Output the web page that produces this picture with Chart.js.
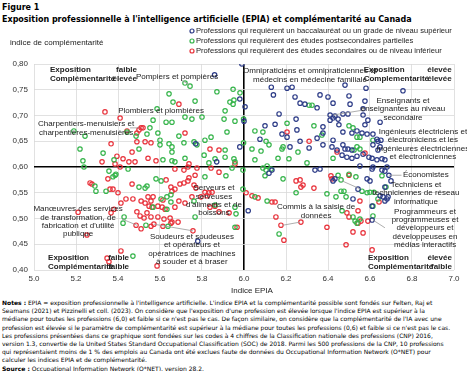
<!DOCTYPE html>
<html lang="fr">
<head>
<meta charset="utf-8">
<script src="https://cdn.jsdelivr.net/npm/chart.js@4.4.0/dist/chart.umd.min.js"></script>
<style>
  body { margin: 0; background: #fff; width: 467px; height: 371px; overflow: hidden; position: relative; }
  #head { position: absolute; left: 2px; top: 2px; font-family: 'DejaVu Sans', Verdana, sans-serif; font-weight: bold; font-size: 8px; line-height: 12px; color: #000; white-space: nowrap; }
  #wrap { position: absolute; left: 0; top: 26px; width: 467px; height: 272px; }
  #notes { position: absolute; left: 2px; top: 299px; width: 463px; font-family: 'DejaVu Sans', Verdana, sans-serif; font-size: 6px; line-height: 8.2px; color: #000; white-space: nowrap; }
</style>
</head>
<body>
<div id="head">Figure 1<br>Exposition professionnelle à l'intelligence artificielle (EPIA) et complémentarité au Canada</div>
<div id="wrap"><canvas id="chart" width="467" height="272"></canvas></div>
<div id="notes">
<b>Notes :</b> EPIA = exposition professionnelle à l'intelligence artificielle. L'indice EPIA et la complémentarité possible sont fondés sur Felten, Raj et<br>
Seamans (2021) et Pizzinelli et coll. (2023). On considère que l'exposition d'une profession est élevée lorsque l'indice EPIA est supérieur à la<br>
médiane pour toutes les professions (6,0) et faible si ce n'est pas le cas. De façon similaire, on considère que la complémentarité de l'IA avec une<br>
profession est élevée si le paramètre de complémentarité est supérieur à la médiane pour toutes les professions (0,6) et faible si ce n'est pas le cas.<br>
Les professions présentées dans ce graphique sont fondées sur les codes à 4 chiffres de la Classification nationale des professions (CNP) 2016,<br>
version 1.3, convertie de la United States Standard Occupational Classification (SOC) de 2018. Parmi les 500 professions de la CNP, 10 professions<br>
qui représentaient moins de 1 % des emplois au Canada ont été exclues faute de données du Occupational Information Network (O*NET) pour<br>
calculer les indices EPIA et de complémentarité.<br>
<b>Source :</b> Occupational Information Network (O*NET), version 28.2.
</div>
<script>
// series names
const seriesNames = [
  'Professions qui requièrent un baccalauréat ou un grade de niveau supérieur',
  'Professions qui requièrent des études postsecondaires partielles',
  'Professions qui requièrent des études secondaires ou de niveau inférieur'
];
const seriesColors = ['#2b3a86', '#35b44a', '#e8313a'];

// [indice EPIA, indice de complémentarité]
const bacPoints = [
  [5.86,0.779],[5.99,0.800],[5.98,0.732],[6.005,0.717],[6.0,0.689],[5.77,0.645],[5.98,0.639],[5.87,0.610],
  [6.13,0.755],[6.14,0.740],[6.205,0.753],[6.229,0.755],[6.243,0.736],[6.267,0.724],[6.29,0.722],[6.167,0.703],
  [6.248,0.693],[6.10,0.680],[6.148,0.683],[6.181,0.664],[6.205,0.658],[6.252,0.672],[6.076,0.654],[6.219,0.639],
  [6.267,0.650],[6.31,0.637],[6.362,0.740],[6.40,0.736],[6.50,0.738],[6.481,0.759],[6.581,0.753],[6.757,0.748],
  [6.424,0.724],[6.505,0.722],[6.348,0.715],[6.567,0.713],[6.576,0.728],[6.41,0.701],[6.424,0.695],[6.41,0.691],
  [6.448,0.693],[6.433,0.699],[6.471,0.703],[6.495,0.703],[6.567,0.701],[6.59,0.691],[6.648,0.687],[6.376,0.678],
  [6.452,0.682],[6.471,0.668],[6.514,0.666],[6.538,0.670],[6.562,0.666],[6.586,0.664],[6.576,0.682],[6.614,0.664],
  [6.376,0.666],[6.633,0.654],[6.638,0.650],[6.652,0.652],[6.348,0.656],[6.424,0.652],[6.376,0.643],[6.419,0.639],
  [6.443,0.633],[6.471,0.643],[6.481,0.635],[6.495,0.635],[6.514,0.633],[6.567,0.625],[6.595,0.619],[6.467,0.623],
  [6.49,0.619],[6.514,0.617],[6.538,0.621],[6.61,0.617],[6.633,0.614],[6.657,0.616],[6.671,0.614],[6.638,0.633],
  [6.648,0.639],[6.614,0.643],[6.552,0.602],[6.614,0.600],[5.78,0.456],[6.02,0.515],[6.119,0.588],[6.133,0.594],
  [6.338,0.594],[6.362,0.596],[6.61,0.596],[6.657,0.594],[6.671,0.592],[6.681,0.600],[6.424,0.573],[6.433,0.577],
  [6.586,0.577],[6.60,0.573],[6.69,0.584],[6.70,0.573],[6.543,0.557],[6.671,0.561],[6.648,0.544],[6.662,0.542],
  [6.681,0.538],[6.686,0.542],[6.671,0.534],[6.519,0.538],[6.61,0.524],[6.61,0.497]
];
const postsecPoints = [
  [5.643,0.742],[5.662,0.726],[5.586,0.713],[5.567,0.691],[5.629,0.687],[5.657,0.687],[5.552,0.676],[5.19,0.670],
  [5.243,0.660],[5.486,0.660],[5.538,0.664],[5.59,0.666],[5.60,0.652],[5.643,0.645],[5.219,0.635],[5.329,0.627],
  [5.50,0.635],[5.60,0.643],[5.657,0.639],[5.233,0.612],[5.381,0.614],[5.614,0.614],[5.657,0.612],[5.238,0.600],
  [5.719,0.763],[5.743,0.757],[5.767,0.728],[5.871,0.746],[5.948,0.751],[5.981,0.744],[5.952,0.730],[5.933,0.726],
  [5.948,0.722],[5.719,0.697],[5.752,0.693],[5.80,0.697],[5.91,0.709],[5.905,0.693],[5.957,0.689],[5.998,0.693],
  [5.69,0.660],[5.814,0.652],[5.843,0.658],[5.919,0.668],[5.714,0.647],[5.762,0.649],[5.776,0.643],[5.91,0.633],
  [5.998,0.647],[5.657,0.629],[5.719,0.617],[5.81,0.623],[5.862,0.616],[5.91,0.619],[5.952,0.616],[5.957,0.610],
  [5.833,0.608],[5.671,0.610],[5.443,0.668],[6.31,0.720],[6.205,0.685],[6.052,0.670],[6.09,0.668],[6.105,0.650],
  [6.119,0.643],[6.038,0.635],[6.081,0.631],[6.186,0.639],[6.181,0.635],[6.257,0.629],[6.052,0.614],[6.162,0.617],
  [6.214,0.616],[6.11,0.602],[6.30,0.608],[6.324,0.720],[6.333,0.680],[6.50,0.680],[6.519,0.676],[6.538,0.658],
  [6.552,0.658],[6.371,0.662],[6.614,0.652],[6.538,0.639],[6.552,0.635],[6.524,0.633],[6.424,0.617],[5.814,0.581],
  [5.914,0.583],[5.943,0.598],[5.995,0.594],[5.762,0.534],[5.862,0.526],[5.957,0.522],[5.962,0.509],[5.767,0.503],
  [5.957,0.483],[6.09,0.598],[6.105,0.594],[6.10,0.583],[6.129,0.596],[6.052,0.542],[5.995,0.557],[6.11,0.534],
  [6.167,0.470],[6.248,0.550],[6.186,0.577],[6.448,0.584],[6.50,0.586],[6.462,0.575],[6.533,0.581],[6.657,0.583],
  [6.395,0.548],[6.438,0.542],[6.462,0.553],[6.476,0.553],[6.486,0.542],[6.562,0.553],[6.586,0.550],[6.60,0.551],
  [6.619,0.551],[6.676,0.561],[6.638,0.538],[6.467,0.515],[6.614,0.524],[6.519,0.503],[6.529,0.495],[6.538,0.491],
  [6.552,0.499],[6.614,0.505],[5.357,0.592],[5.376,0.581],[5.39,0.586],[5.448,0.596],[5.295,0.553],[5.343,0.553],
  [5.50,0.561],[5.529,0.559],[5.538,0.563],[5.581,0.577],[5.605,0.573],[5.567,0.522],[5.605,0.538],[5.633,0.542],
  [5.652,0.546],[5.652,0.532],[5.633,0.518],[5.429,0.503],[5.424,0.491],[5.533,0.487],[5.638,0.485],[5.471,0.427],
  [5.29,0.563],[5.386,0.584]
];
const secPoints = [
  [5.338,0.707],[5.41,0.695],[5.51,0.676],[5.50,0.672],[5.49,0.666],[5.519,0.676],[5.443,0.670],[5.49,0.649],
  [5.529,0.649],[5.557,0.647],[5.367,0.645],[5.467,0.629],[5.395,0.621],[5.424,0.616],[5.452,0.610],[5.481,0.610],
  [5.543,0.617],[5.581,0.612],[5.386,0.606],[5.324,0.610],[5.69,0.722],[5.719,0.666],[5.838,0.635],[5.881,0.633],
  [5.738,0.606],[5.957,0.606],[6.205,0.668],[6.31,0.650],[6.443,0.629],[6.576,0.627],[5.671,0.596],[5.714,0.594],
  [5.733,0.600],[5.776,0.598],[5.881,0.590],[5.843,0.598],[5.767,0.584],[5.738,0.579],[5.733,0.573],[5.695,0.567],
  [5.714,0.569],[5.762,0.565],[5.771,0.559],[5.671,0.557],[5.814,0.551],[5.833,0.550],[5.848,0.551],[5.752,0.542],
  [5.795,0.542],[5.824,0.544],[5.69,0.534],[5.862,0.524],[5.838,0.522],[5.881,0.513],[5.929,0.511],[5.686,0.493],
  [5.657,0.493],[5.757,0.476],[5.719,0.530],[5.671,0.522],[6.01,0.550],[6.038,0.544],[6.067,0.540],[6.133,0.532],
  [6.148,0.532],[6.152,0.503],[6.176,0.487],[6.271,0.493],[6.19,0.458],[6.248,0.573],[6.267,0.575],[5.967,0.483],
  [6.414,0.583],[6.419,0.577],[6.50,0.584],[6.333,0.559],[6.643,0.532],[6.552,0.534],[6.543,0.515],[6.49,0.511],
  [6.50,0.503],[6.557,0.495],[6.543,0.491],[6.59,0.495],[6.519,0.474],[6.567,0.472],[6.395,0.483],[6.486,0.449],
  [6.61,0.439],[6.271,0.561],[6.281,0.565],[5.352,0.577],[5.41,0.600],[5.276,0.567],[5.362,0.557],[5.40,0.550],
  [5.467,0.567],[5.629,0.575],[5.652,0.561],[5.438,0.538],[5.471,0.538],[5.51,0.534],[5.543,0.542],[5.567,0.542],
  [5.414,0.530],[5.381,0.518],[5.529,0.530],[5.548,0.524],[5.557,0.534],[5.562,0.522],[5.59,0.524],[5.614,0.536],
  [5.657,0.553],[5.61,0.522],[5.624,0.518],[5.367,0.511],[5.49,0.513],[5.505,0.505],[5.538,0.511],[5.557,0.503],
  [5.524,0.501],[5.59,0.503],[5.619,0.499],[5.648,0.501],[5.486,0.487],[5.51,0.480],[5.557,0.485],[5.571,0.489],
  [5.652,0.491],[5.252,0.468],[5.414,0.437],[5.348,0.423],[5.357,0.416],[5.586,0.408],[5.614,0.485],[5.267,0.569],
  [5.376,0.557],[5.21,0.512]
];

const xTicks = [5.0, 5.2, 5.4, 5.6, 5.8, 6.0, 6.2, 6.4, 6.6, 6.8, 7.0];
const yTicks = [0.40, 0.45, 0.50, 0.55, 0.60, 0.65, 0.70, 0.75, 0.80];
const xMedian = 6.0;
const yMedian = 0.60;

// text annotations, anchored in data units
const labels = [
  { lines: ['Pompiers et pompières'], x: 5.681, y: 0.775 },
  { lines: ['Plombiers et plombières'], x: 5.605, y: 0.709 },
  { lines: ['Charpentiers-menuisiers et', 'charpentières-menuisières'], x: 5.248, y: 0.683 },
  { lines: ['Omnipraticiens et omnipraticiennes et', 'médecins en médecine familiale'], x: 6.314, y: 0.786 },
  { lines: ['Enseignants et', 'enseignantes au niveau', 'secondaire'], x: 6.757, y: 0.728 },
  { lines: ['Ingénieurs électriciens et', 'électroniciens et les', 'ingénieures électriciennes', 'et électroniciennes'], x: 6.852, y: 0.668 },
  { lines: ['Économistes'], x: 6.757, y: 0.584, align: 'left' },
  { lines: ['Techniciens et', 'techniciennes de réseau', 'informatique'], x: 6.819, y: 0.565 },
  { lines: ['Programmeurs et', 'programmeuses et', 'développeurs et', 'développeuses en', 'médias interactifs'], x: 6.862, y: 0.513 },
  { lines: ['Commis à la saisie de', 'données'], x: 6.343, y: 0.522 },
  { lines: ['Serveurs et', 'serveuses', "d'aliments et de", 'boissons'], x: 5.857, y: 0.559 },
  { lines: ['Manœuvres des services', 'de transformation, de', "fabrication et d'utilité", 'publique'], x: 5.21, y: 0.518 },
  { lines: ['Soudeurs et soudeuses', 'et opérateurs et', 'opératrices de machines', 'à souder et à braser'], x: 5.752, y: 0.464 }
];
const quadrantLabels = [
  { lines: [['Exposition', 'faible'], ['Complémentarité', 'élevée']], x: 5.076, y: 0.788, w: 87 },
  { lines: [['Exposition', 'élevée'], ['Complementarité', 'élevée']], x: 6.57, y: 0.788, w: 88 },
  { lines: [['Exposition', 'faible'], ['Complémentarité', 'faible']], x: 5.067, y: 0.423, w: 81 },
  { lines: [['Exposition', 'élevée'], ['Complémentarité', 'faible']], x: 6.59, y: 0.423, w: 84 }
];
const leaders = [
  [5.70, 0.769, 5.74, 0.760],
  [5.457, 0.676, 5.50, 0.676],
  [6.576, 0.711, 6.424, 0.701],
  [6.69, 0.584, 6.75, 0.584],
  [6.467, 0.573, 6.55, 0.558],
  [6.614, 0.497, 6.671, 0.482],
  [6.267, 0.493, 6.186, 0.487],
  [5.419, 0.499, 5.49, 0.487],
  [5.571, 0.489, 5.757, 0.476]
];

const FONT = '"Liberation Sans", Arial, sans-serif';
Chart.defaults.font.family = FONT;
Chart.defaults.font.size = 8;
Chart.defaults.color = '#333';

const overlay = {
  id: 'overlay',
  afterDatasetsDraw(chart) {
    const { ctx, scales: { x, y } } = chart;
    ctx.save();
    ctx.strokeStyle = '#999';
    ctx.lineWidth = 0.8;
    leaders.forEach(([x1, y1, x2, y2]) => {
      ctx.beginPath();
      ctx.moveTo(x.getPixelForValue(x1), y.getPixelForValue(y1));
      ctx.lineTo(x.getPixelForValue(x2), y.getPixelForValue(y2));
      ctx.stroke();
    });
    ctx.fillStyle = '#222';
    ctx.textBaseline = 'middle';
    ctx.font = '8px ' + FONT;
    labels.forEach(l => {
      ctx.textAlign = l.align || 'center';
      const px = x.getPixelForValue(l.x), py = y.getPixelForValue(l.y);
      l.lines.forEach((t, i) => ctx.fillText(t, px, py + i * 8.2));
    });
    ctx.font = 'bold 8px ' + FONT;
    quadrantLabels.forEach(q => {
      const px = x.getPixelForValue(q.x), py = y.getPixelForValue(q.y);
      q.lines.forEach(([a, b], i) => {
        ctx.textAlign = 'left';
        ctx.fillText(a, px, py + i * 9);
        ctx.textAlign = 'right';
        ctx.fillText(b, px + q.w, py + i * 9);
      });
    });
    ctx.restore();
  },
  afterDraw(chart) {
    const { ctx } = chart;
    ctx.save();
    ctx.textBaseline = 'middle';
    ctx.textAlign = 'left';
    // legend
    ctx.font = '7.6px ' + FONT;
    seriesNames.forEach((name, i) => {
      const ly = 5 + i * 10;
      ctx.beginPath();
      ctx.arc(192, ly, 2, 0, Math.PI * 2);
      ctx.strokeStyle = seriesColors[i];
      ctx.lineWidth = 1.2;
      ctx.stroke();
      ctx.fillStyle = '#222';
      ctx.fillText(name, 196, ly);
    });
    // axis titles
    ctx.font = '8px ' + FONT;
    ctx.fillText('indice de complémentarité', 10, 17);
    ctx.textAlign = 'center';
    ctx.fillText('Indice EPIA', 252, 265);
    ctx.restore();
  }
};

const makeSet = (pts, i) => ({
  label: seriesNames[i],
  data: pts.map(([x, y]) => ({ x, y })),
  borderColor: seriesColors[i],
  backgroundColor: 'rgba(255,255,255,0)',
  pointRadius: 2.2,
  pointBorderWidth: 1.2,
  pointStyle: 'circle'
});

new Chart(document.getElementById('chart'), {
  type: 'scatter',
  data: {
    datasets: [makeSet(bacPoints, 0), makeSet(postsecPoints, 1), makeSet(secPoints, 2)]
  },
  options: {
    responsive: false,
    animation: false,
    layout: { padding: { top: 38, right: 13, left: 0, bottom: 0 } },
    plugins: { legend: { display: false }, tooltip: { enabled: false } },
    scales: {
      x: {
        min: 5.0, max: 7.0,
        afterBuildTicks: s => { s.ticks = xTicks.map(v => ({ value: v })); },
        afterFit: s => { s.height = 28; },
        ticks: { callback: v => v.toFixed(1), padding: 4, color: '#333', font: { size: 8 } },
        grid: {
          drawTicks: false,
          color: c => c.tick && c.tick.value === xMedian ? '#000' : '#d9d9d9',
          lineWidth: c => c.tick && c.tick.value === xMedian ? 1.6 : 0.8
        },
        border: { display: false }
      },
      y: {
        min: 0.40, max: 0.80,
        afterBuildTicks: s => { s.ticks = yTicks.map(v => ({ value: v })); },
        afterFit: s => { s.width = 34; },
        ticks: { callback: v => v.toFixed(2).replace('.', ','), padding: 6, color: '#333', font: { size: 8 } },
        grid: {
          drawTicks: false,
          color: c => c.tick && c.tick.value === yMedian ? '#000' : '#d9d9d9',
          lineWidth: c => c.tick && c.tick.value === yMedian ? 1.6 : 0.8
        },
        border: { display: false }
      }
    }
  },
  plugins: [overlay]
});
</script>
</body>
</html>
